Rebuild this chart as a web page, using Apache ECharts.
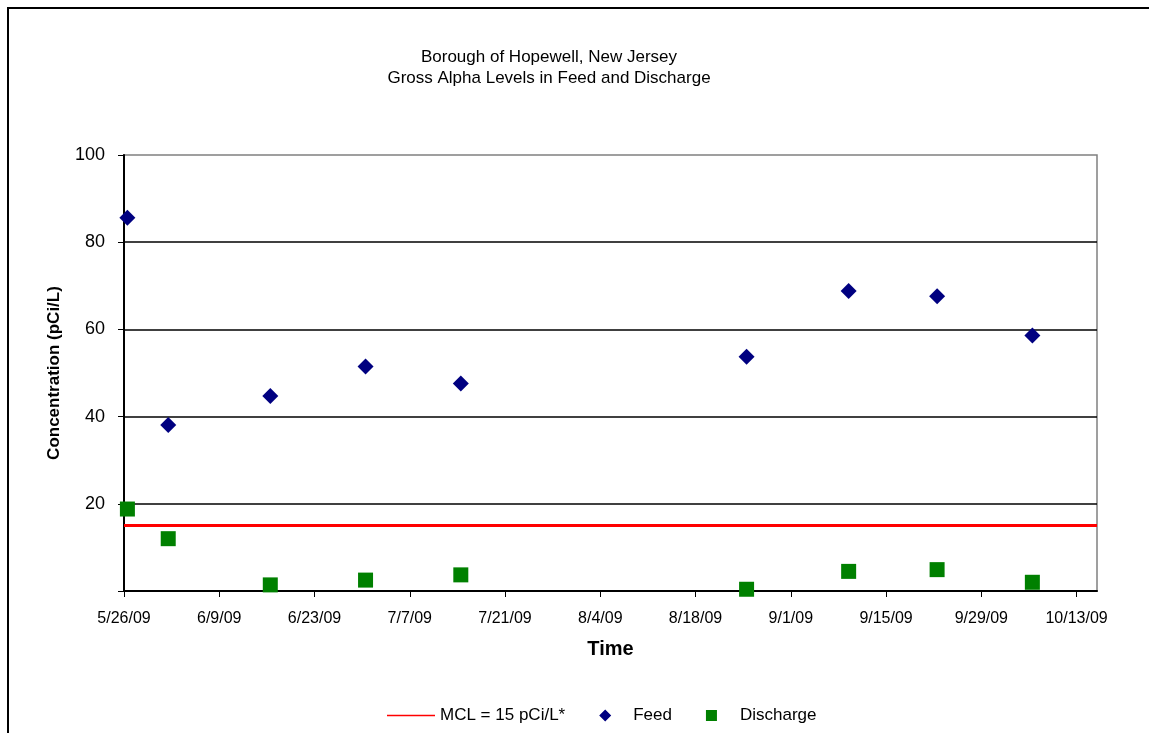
<!DOCTYPE html>
<html>
<head>
    <meta charset="utf-8">
    <title>Gross Alpha Levels - Hopewell</title>
    <script src="https://cdn.jsdelivr.net/npm/echarts@6/dist/echarts.min.js"></script>
    <style>
        html, body { margin: 0; padding: 0; background: #fff; }
    </style>
</head>
<body>
<div id="chart" style="width:1149px;height:733px;"></div>

<script type="text/javascript">
    // sample dates and measured values (pCi/L)
    var sampleDates = ['2009-05-26', '2009-06-01', '2009-06-16', '2009-06-30', '2009-07-14',
                       '2009-08-25', '2009-09-09', '2009-09-22', '2009-10-06'];
    var feedValues = [85.6, 38.1, 44.7, 51.5, 47.6, 53.7, 68.8, 67.6, 58.6];
    var dischargeValues = [18.8, 12.0, 1.4, 2.5, 3.7, 0.4, 4.5, 4.9, 2.0];
    var mclValue = 15;

    // axis ticks
    var xTickDates = ['2009-05-26', '2009-06-09', '2009-06-23', '2009-07-07', '2009-07-21', '2009-08-04',
                      '2009-08-18', '2009-09-01', '2009-09-15', '2009-09-29', '2009-10-13'];
    var xStart = '2009-05-26';
    var xEnd = '2009-10-16';

    var DAY = 86400000;
    function dayOf(s) {
        var p = s.split('-');
        return (Date.UTC(+p[0], +p[1] - 1, +p[2]) - Date.UTC(2009, 4, 26)) / DAY;
    }
    function fmtDay(d) {
        var t = new Date(Date.UTC(2009, 4, 26) + Math.round(d) * DAY);
        return (t.getUTCMonth() + 1) + '/' + t.getUTCDate() + '/' + String(t.getUTCFullYear()).slice(2);
    }

    // samples plotted at midday
    var feedData = sampleDates.map(function (d, i) { return [dayOf(d) + 0.5, feedValues[i]]; });
    var dischargeData = sampleDates.map(function (d, i) { return [dayOf(d) + 0.5, dischargeValues[i]]; });
    var mclData = [[dayOf(xStart), mclValue], [dayOf(xEnd), mclValue]];
    var xTicks = xTickDates.map(dayOf);

    // legend icons: 48x12 box, the tiny end segments only fix the box size
    var BOX = 'M0,0L0.01,0M48,12L47.99,12';
    var iconLine = 'path://' + BOX + 'M0,5.3H48V6.7H0Z';
    var iconDiamond = 'path://' + BOX + 'M25,0L31,6L25,12L19,6Z';
    var iconSquare = 'path://' + BOX + 'M19,0.5H30V11.5H19Z';

    var myChart = echarts.init(document.getElementById('chart'));
    var option = {
        backgroundColor: '#fff',
        animation: false,
        textStyle: { fontFamily: 'Liberation Sans, Arial, sans-serif', color: '#000' },
        graphic: [
            {
                type: 'rect',
                shape: { x: 8, y: 8, width: 1200, height: 800 },
                style: { fill: 'none', stroke: '#000', lineWidth: 2 },
                z: -10
            },
            {
                type: 'text',
                x: 549, y: 57,
                style: {
                    text: 'Borough of Hopewell, New Jersey',
                    font: '17px "Liberation Sans", Arial, sans-serif',
                    fill: '#000', align: 'center', verticalAlign: 'middle'
                }
            },
            {
                type: 'text',
                x: 549, y: 78,
                style: {
                    text: 'Gross Alpha Levels in Feed and Discharge',
                    font: '17px "Liberation Sans", Arial, sans-serif',
                    fill: '#000', align: 'center', verticalAlign: 'middle'
                }
            }
        ],
        grid: {
            left: 124, top: 155, right: 52, bottom: 142,
            show: true, borderColor: '#808080', borderWidth: 1.5
        },
        legend: {
            left: 382, top: 702,
            itemWidth: 48, itemHeight: 12, itemGap: 15,
            symbolKeepAspect: true,
            textStyle: { fontSize: 17, color: '#000' },
            data: [
                { name: 'MCL = 15 pCi/L*', icon: iconLine },
                { name: 'Feed', icon: iconDiamond },
                { name: 'Discharge', icon: iconSquare }
            ]
        },
        xAxis: {
            type: 'value',
            min: dayOf(xStart), max: dayOf(xEnd),
            name: 'Time', nameLocation: 'middle', nameGap: 48,
            nameTextStyle: { fontSize: 20, fontWeight: 'bold', color: '#000' },
            axisLine: { lineStyle: { color: '#000', width: 2 } },
            axisTick: { show: true, length: 6, customValues: xTicks, lineStyle: { color: '#000' } },
            axisLabel: { customValues: xTicks, formatter: fmtDay, fontSize: 16, color: '#000', margin: 20 },
            splitLine: { show: false }
        },
        yAxis: {
            type: 'value',
            min: 0, max: 100, interval: 20,
            name: 'Concentration (pCi/L)', nameLocation: 'middle', nameGap: 61, nameRotate: 90,
            nameTextStyle: { fontSize: 17, fontWeight: 'bold', color: '#000' },
            axisLine: { show: true, lineStyle: { color: '#000', width: 2 } },
            axisTick: { show: true, length: 6, lineStyle: { color: '#000' } },
            axisLabel: {
                fontSize: 18, color: '#000', margin: 19,
                formatter: function (v) { return v === 0 ? '' : v; }
            },
            splitLine: { show: true, showMaxLine: false, lineStyle: { color: '#000', width: 1.5 } }
        },
        series: [
            {
                name: 'MCL = 15 pCi/L*',
                type: 'line',
                data: mclData,
                symbol: 'none',
                lineStyle: { color: '#ff0000', width: 3 },
                itemStyle: { color: '#ff0000' },
                z: 3
            },
            {
                name: 'Feed',
                type: 'scatter',
                data: feedData,
                symbol: 'diamond',
                symbolSize: 16,
                itemStyle: { color: '#000080', opacity: 1 },
                z: 4
            },
            {
                name: 'Discharge',
                type: 'scatter',
                data: dischargeData,
                symbol: 'rect',
                symbolSize: 15,
                itemStyle: { color: '#008000', opacity: 1 },
                z: 4
            }
        ]
    };
    myChart.setOption(option);
</script>
</body>
</html>
